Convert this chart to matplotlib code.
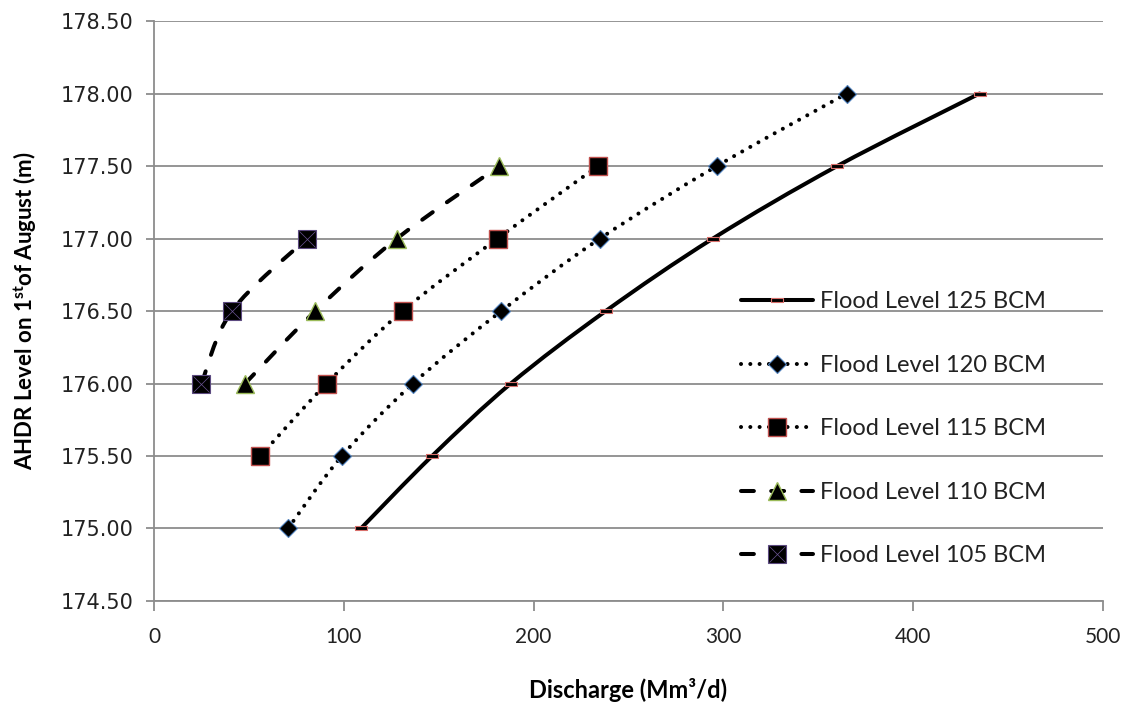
#!/usr/bin/env python

import numpy as np
import matplotlib
matplotlib.use('Agg')
from matplotlib import pyplot as plt
from matplotlib.path import Path
from matplotlib.patches import PathPatch
from matplotlib.lines import Line2D

# discharge (Mm3/d), per flood level
q_125 = [109, 146.5, 188, 238, 294.5, 360, 435]
h_125 = [175.0, 175.5, 176.0, 176.5, 177.0, 177.5, 178.0]
q_120 = [70.6, 99, 136.5, 183, 235, 296.6, 365]
h_120 = [175.0, 175.5, 176.0, 176.5, 177.0, 177.5, 178.0]
q_115 = [56, 91, 131, 181, 234]
h_115 = [175.5, 176.0, 176.5, 177.0, 177.5]
q_110 = [48, 85, 128, 182]
h_110 = [176.0, 176.5, 177.0, 177.5]
q_105 = [25, 41, 80.5]
h_105 = [176.0, 176.5, 177.0]

labels = ['Flood Level 125 BCM', 'Flood Level 120 BCM', 'Flood Level 115 BCM',
          'Flood Level 110 BCM', 'Flood Level 105 BCM']

plt.rcParams['mathtext.fontset'] = 'custom'
plt.rcParams['mathtext.rm'] = 'Lato:bold'
plt.rcParams['mathtext.it'] = 'Lato:bold'
plt.rcParams['mathtext.bf'] = 'Lato:bold'

GRID = '#8c8c8c'
LW = 2.9
DOT = (0, (0.01, 2.3))
DASH = (0, (3.2, 4.3))

fig = plt.figure(figsize=(11.31, 7.13), dpi=100)
ax = fig.add_axes([0.1362, 0.1571, 0.9752 - 0.1362, 0.9705 - 0.1571])


def smooth_path(xs, ys):
    # excel-like smoothed line: cubic bezier with catmull-rom control points
    p = np.column_stack([xs, ys]).astype(float)
    n = len(p)
    verts = [p[0]]
    codes = [Path.MOVETO]
    for i in range(n - 1):
        p0 = p[i - 1] if i > 0 else p[i]
        p3 = p[i + 2] if i + 2 < n else p[i + 1]
        c1 = p[i] + (p[i + 1] - p0) / 6.0
        c2 = p[i + 1] - (p3 - p[i]) / 6.0
        verts += [c1, c2, p[i + 1]]
        codes += [Path.CURVE4] * 3
    return Path(verts, codes)


dash_mark = Path([(-1, -0.4), (1, -0.4), (1, 0.4), (-1, 0.4), (-1, -0.4)],
                 [Path.MOVETO, Path.LINETO, Path.LINETO, Path.LINETO, Path.CLOSEPOLY])

series = [
    (q_125, h_125, '-', dict(marker=dash_mark, ms=8, mfc='black', mec='#d9706c', mew=0.8)),
    (q_120, h_120, DOT, dict(marker='D', ms=9, mfc='black', mec='#4f81bd', mew=0.8)),
    (q_115, h_115, DOT, dict(marker='s', ms=13, mfc='black', mec='#c0504d', mew=1.0)),
    (q_110, h_110, DASH, dict(marker='^', ms=13, mfc='black', mec='#9bbb59', mew=1.0)),
    (q_105, h_105, DASH, dict(marker='s', ms=13, mfc='black', mec='#5c4a80', mew=0.8)),
]

handles = []
for (xs, ys, ls, mk), lab in zip(series, labels):
    patch = PathPatch(smooth_path(xs, ys), facecolor='none', edgecolor='black',
                      lw=LW, linestyle=ls, capstyle='round', zorder=3)
    ax.add_patch(patch)
    ax.plot(xs, ys, ls='none', zorder=4, **mk)
    h = Line2D([], [], color='black', lw=LW, linestyle=ls,
               dash_capstyle='round', solid_capstyle='round', **mk)
    handles.append(h)

# the thin x inside the 105 squares
ax.plot(q_105, h_105, ls='none', marker='x', ms=12, mec='#6a5494', mew=0.5, zorder=5)
hx = Line2D([], [], ls='none', marker='x', ms=12, mec='#6a5494', mew=0.5)
handles[4] = (handles[4], hx)

ax.set_xlim(0, 500)
ax.set_ylim(174.5, 178.5)
ax.set_xticks(np.arange(0, 501, 100))
ax.set_yticks(np.arange(174.5, 178.51, 0.5))
ax.set_yticklabels([format(v, '.2f') for v in np.arange(174.5, 178.51, 0.5)])
ax.grid(axis='y', color=GRID, lw=1.3)
ax.set_axisbelow(True)
for s in ['top', 'right']:
    ax.spines[s].set_visible(False)
for s in ['left', 'bottom']:
    ax.spines[s].set_color(GRID)
    ax.spines[s].set_linewidth(1.3)
ax.tick_params(axis='y', direction='out', length=6, color=GRID, width=1.3,
               labelsize=15, pad=9, labelcolor='#222222')
ax.tick_params(axis='x', direction='out', length=7, color=GRID, width=1.3,
               labelsize=15, pad=12, labelcolor='#222222')
for t in ax.get_xticklabels():
    t.set_fontfamily('Lato')

ax.set_xlabel('Discharge (Mm³/d)', fontfamily='Lato', fontweight='bold',
              fontsize=17, labelpad=22)
ax.set_ylabel(r'AHDR Level on 1$^{\mathrm{st}}$of August (m)', fontfamily='Lato',
              fontweight='bold', fontsize=16, labelpad=15)

leg = ax.legend(handles, labels, loc='upper left', bbox_to_anchor=(0.6084, 0.55),
                frameon=False, prop={'family': 'Lato', 'size': 17},
                handlelength=3.05, handletextpad=0.3, labelspacing=1.8,
                numpoints=1, borderaxespad=0)
for t in leg.get_texts():
    t.set_color('#222222')

fig.savefig('out.png', dpi=100)
